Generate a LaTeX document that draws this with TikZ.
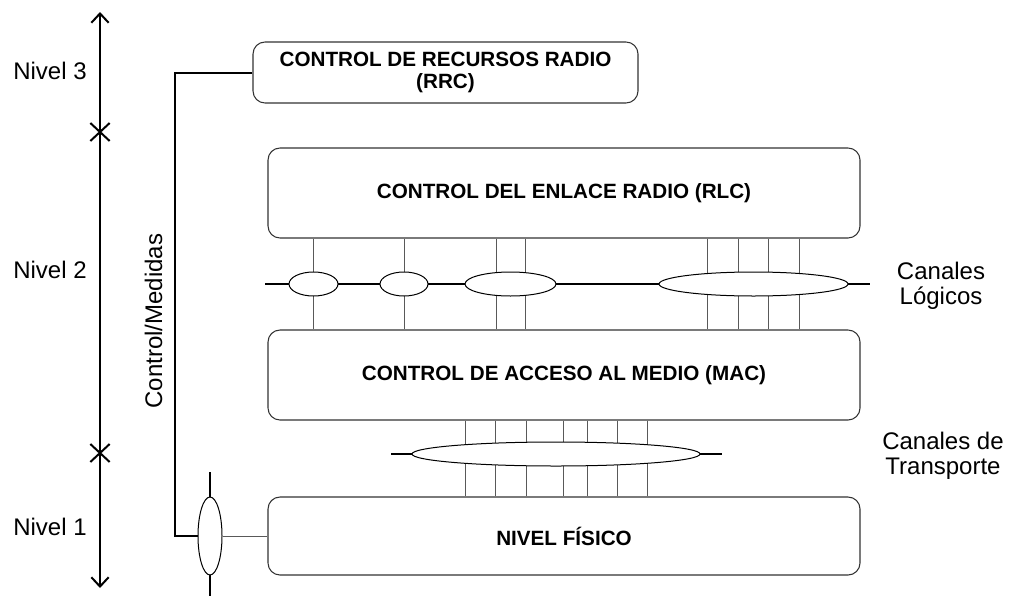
\documentclass[tikz,border=0pt]{standalone}
\usepackage{fontspec}
\setmainfont{Liberation Sans}
\usetikzlibrary{arrows.meta,shapes.geometric,shapes.misc}
\begin{document}
\begin{tikzpicture}[x=0.75pt,y=-0.75pt,
  lbl/.style={font=\fontsize{18}{19}\selectfont,align=center,inner sep=0pt},
  layer/.style={draw=black!80,line width=0.8pt,rounded corners=9pt,minimum width=444pt,
    font=\fontsize{15.5}{16.5}\selectfont\bfseries,align=center,inner sep=0pt},
  chan/.style={draw=black,line width=0.75pt,fill=white,ellipse,inner sep=0pt,minimum height=18pt},
  thick line/.style={line width=2pt},
  vline/.style={draw=black!65,line width=0.75pt},
  axis/.style={line width=1.5pt},
  xmark/.style={cross out,draw,line width=1.5pt,minimum width=13pt,minimum height=12pt,inner sep=0pt}]
\useasboundingbox (0,0) rectangle (1019,596);

% levels axis
\coordinate (axtop) at (100,12);
\coordinate (axbot) at (100,588);
\draw[axis,{Straight Barb[length=7pt,width=13pt]}-{Straight Barb[length=7pt,width=13pt]}] (axtop) -- (axbot);
\node[xmark] (x32) at (100,132) {};
\node[xmark] (x21) at (100,453) {};
\node[lbl] (n3) at (50,71) {Nivel 3};
\node[lbl] (n2) at (50,270) {Nivel 2};
\node[lbl] (n1) at (50,527) {Nivel 1};

% boxes
\node[layer,minimum width=288.75pt,minimum height=45.75pt,font=\fontsize{15.5}{16.5}\selectfont\bfseries] (rrc) at (445.5,72.5)
  {CONTROL DE RECURSOS RADIO\\(RRC)};
\node[layer,minimum height=67.5pt] (rlc) at (564,193) {CONTROL DEL ENLACE RADIO (RLC)};
\node[layer,minimum height=67.5pt] (mac) at (564,375) {CONTROL DE ACCESO AL MEDIO (MAC)};
\node[layer,minimum height=58.5pt] (phy) at (564,536) {NIVEL FÍSICO};

% logical channels
\coordinate (lcl) at (265,284);
\coordinate (lcr) at (870,284);
\draw[thick line] (lcl) -- (lcr);
\foreach \x in {313,404,496,525,707,738,768,799}
  \draw[vline] (\x,0 |- rlc.south) -- (\x,0 |- mac.north);
\node[chan,minimum width=36.75pt] (l1) at (313.5,284) {};
\node[chan,minimum width=36pt] (l2) at (404,284) {};
\node[chan,minimum width=68.25pt] (l3) at (510.5,284) {};
\node[chan,minimum width=141.75pt] (l4) at (753.5,284) {};
\node[lbl] (lclbl) at (941,286) {Canales\\Lógicos};

% transport channels
\coordinate (tcl) at (391,454);
\coordinate (tcr) at (722,454);
\draw[thick line] (tcl) -- (tcr);
\foreach \x in {465,495,526,563,587,617,647}
  \draw[vline] (\x,0 |- mac.south) -- (\x,0 |- phy.north);
\node[chan,minimum width=216pt] (t1) at (556,454) {};
\node[lbl] (tclbl) at (943,456) {Canales de\\Transporte};

% control / measurements
\coordinate (ct) at (210,472);
\coordinate (cb) at (210,596);
\draw[axis] (ct) -- (cb);
\node[chan,minimum width=18pt,minimum height=58.5pt] (cm) at (210,536) {};
\draw[axis] (rrc.west) -| (175,0 |- cm.west) -- (cm.west);
\draw[vline] (cm.east) -- (phy.west);
\node[lbl,rotate=90] (cmlbl) at (153.5,321) {Control/Medidas};
\end{tikzpicture}
\end{document}
